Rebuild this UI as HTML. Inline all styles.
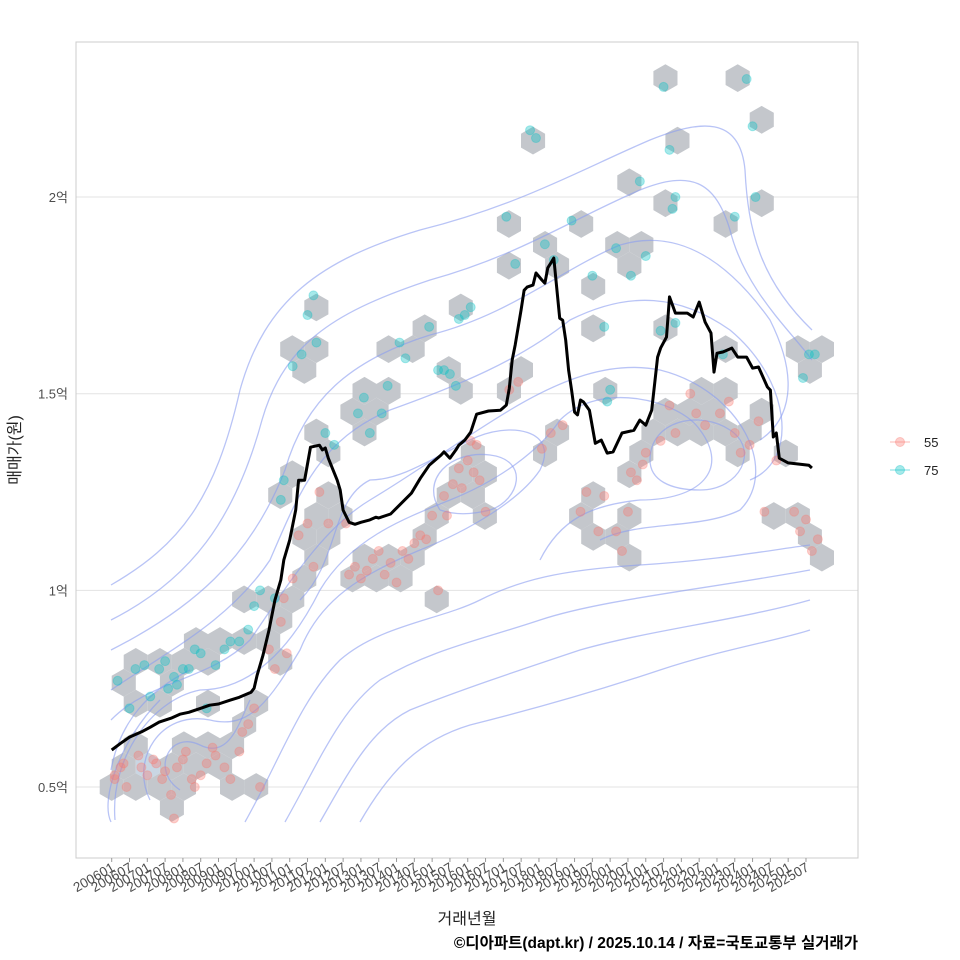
<!DOCTYPE html>
<html><head><meta charset="utf-8"><style>
body{margin:0;background:#fff;}
svg{display:block;font-family:"Liberation Sans","Noto Sans CJK KR",sans-serif;}
</style></head><body>
<svg id="chart" width="960" height="960" viewBox="0 0 960 960" xmlns="http://www.w3.org/2000/svg">
<rect x="0" y="0" width="960" height="960" fill="#fff"/>
<g id="grid"></g>
<g id="hexes"></g>
<g id="contours" fill="none" stroke="#8b9cf0" stroke-opacity="0.6" stroke-width="1.3">
<path d="M111,585 C180,545 215,500 240,390 C265,300 320,260 420,230 C520,205 580,170 650,140 C700,120 740,115 745,170 C748,230 760,280 812,330"/>
<path d="M111,620 C190,580 235,520 262,420 C285,340 340,310 430,280 C520,255 570,220 640,190 C690,170 715,180 730,230 C745,290 790,330 812,360"/>
<path d="M111,650 C190,610 250,560 285,470 C305,400 350,360 430,335 C510,315 560,270 620,245 C670,230 720,250 770,320 C800,380 790,420 760,440"/>
<path d="M111,690 C170,650 230,620 270,560 C300,490 320,440 390,410 C460,385 520,360 570,320 C630,290 680,295 730,330 C790,380 800,460 750,480"/>
<path d="M111,720 C150,680 210,680 250,640 C285,590 320,530 370,500 C420,470 460,440 510,410 C560,380 610,360 660,370 C740,390 780,470 740,510 C700,530 640,520 600,540"/>
<path d="M115,820 C110,760 150,700 200,690 C250,690 290,650 320,590 C350,540 400,520 450,500 C500,480 540,450 560,420 C600,380 680,400 700,430 C730,470 700,500 640,500 C590,505 560,520 540,560"/>
<path d="M150,800 C130,760 160,710 210,720 C250,730 270,700 300,650 C320,600 360,575 420,550 C470,530 520,500 540,470 C560,430 510,420 470,440 C430,460 400,480 370,480 C330,500 340,560 300,600"/>
<path d="M180,790 C150,770 170,730 200,745 C230,760 240,720 250,700"/>
<path d="M440,510 C420,480 450,450 490,455 C530,460 520,500 490,510 C470,515 455,515 440,510"/>
<path d="M650,460 C650,420 700,410 730,430 C760,450 740,490 700,490 C670,490 650,480 650,460"/>
<path d="M245,822 C280,760 300,700 340,660 C380,625 440,620 480,600 C520,580 560,570 640,565 C720,560 770,550 810,545"/>
<path d="M285,822 C320,760 340,710 380,680 C430,650 480,640 540,620 C600,600 700,590 810,570"/>
<path d="M320,822 C350,770 370,730 410,710 C460,690 520,670 580,650 C650,630 740,620 810,600"/>
<path d="M360,822 C390,770 420,740 470,725 C530,710 600,690 660,670 C720,650 780,640 810,630"/>
<path d="M111,822 C100,800 120,740 160,700"/>
<path d="M111,770 C120,720 150,690 190,670"/>
</g>
<g id="points"></g>
<path id="line" fill="none" stroke="#000" stroke-width="3" stroke-linejoin="round"/>
<rect x="76" y="42" width="782" height="816" fill="none" stroke="#cccccc" stroke-width="1"/>
<g id="yaxis" font-size="13" fill="#4d4d4d"></g>
<g id="xaxis" font-size="13.5" fill="#4d4d4d"></g>
<text transform="translate(20,450) rotate(-90)" text-anchor="middle" font-size="16" fill="#222">매매가(원)</text>
<text x="467" y="924" text-anchor="middle" font-size="16" fill="#222">거래년월</text>
<text x="858" y="948" text-anchor="end" font-size="15.5" font-weight="bold" fill="#000">©디아파트(dapt.kr) / 2025.10.14 / 자료=국토교통부 실거래가</text>
<g>
<g>
<line x1="890" y1="442" x2="910" y2="442" stroke="#f8766d" stroke-opacity="0.35" stroke-width="1.5"/>
<circle cx="900" cy="442" r="4.5" fill="#f8766d" fill-opacity="0.35" stroke="#f8766d" stroke-opacity="0.35"/>
<text x="924" y="447" font-size="13" fill="#222">55</text></g>
<g>
<line x1="890" y1="470" x2="910" y2="470" stroke="#00bfc4" stroke-opacity="0.35" stroke-width="1.5"/>
<circle cx="900" cy="470" r="4.5" fill="#00bfc4" fill-opacity="0.35" stroke="#00bfc4" stroke-opacity="0.35"/>
<text x="924" y="475" font-size="13" fill="#222">75</text></g>
</g>
</svg>
<script>
// month index: 0 = 2006-01
const lineMonths=[0,3,6,10,13,16,20,23,26,30,33,36,40,43,47,48,49,51,53,55,57,58,60,62,63,65,67,70,71,72,73,76,77,78,80,82,84,87,89,90,94,101,104,107,111,112,114,116,117,119,121,123,127,131,133,134,135,136,138,139,140,142,143,145,146,147,148,149,151,152,153,154,155,156,157,158,159,161,163,165,167,169,172,176,178,180,182,184,185,187,188,190,194,196,198,200,202,203,204,206,209,211,214,216,218,221,222,223,224,225,228,235,236];
const lineValues=[0.594,0.611,0.627,0.640,0.652,0.665,0.675,0.685,0.690,0.700,0.708,0.711,0.721,0.728,0.741,0.751,0.784,0.835,0.899,0.975,1.026,1.077,1.128,1.204,1.280,1.280,1.364,1.369,1.357,1.362,1.336,1.280,1.255,1.204,1.173,1.168,1.173,1.179,1.186,1.184,1.194,1.247,1.285,1.318,1.344,1.352,1.336,1.357,1.369,1.382,1.402,1.448,1.456,1.458,1.471,1.514,1.586,1.624,1.713,1.763,1.771,1.776,1.807,1.789,1.781,1.820,1.832,1.845,1.692,1.687,1.636,1.560,1.509,1.453,1.446,1.484,1.479,1.458,1.374,1.382,1.349,1.352,1.400,1.407,1.433,1.420,1.458,1.593,1.616,1.644,1.746,1.705,1.705,1.695,1.733,1.682,1.654,1.555,1.603,1.606,1.616,1.593,1.593,1.565,1.568,1.517,1.509,1.390,1.400,1.336,1.324,1.318,1.311];
const pinkPoints=[[1,0.53],[1,0.52],[3,0.55],[5,0.50],[4,0.56],[9,0.58],[10,0.55],[12,0.53],[14,0.57],[15,0.56],[17,0.52],[18,0.54],[20,0.48],[21,0.42],[22,0.55],[24,0.57],[25,0.59],[27,0.52],[28,0.50],[30,0.53],[32,0.56],[34,0.60],[35,0.58],[38,0.55],[40,0.52],[43,0.59],[44,0.64],[46,0.66],[48,0.70],[50,0.50],[53,0.85],[55,0.80],[57,0.92],[59,0.84],[58,0.98],[61,1.03],[63,1.14],[66,1.17],[70,1.25],[68,1.06],[73,1.17],[79,1.17],[80,1.04],[82,1.06],[84,1.03],[86,1.05],[88,1.08],[90,1.10],[92,1.04],[94,1.07],[96,1.02],[98,1.10],[100,1.08],[102,1.12],[104,1.14],[106,1.13],[108,1.19],[110,1.00],[112,1.24],[113,1.19],[115,1.27],[117,1.31],[118,1.26],[120,1.33],[122,1.30],[124,1.28],[121,1.38],[123,1.37],[126,1.20],[134,1.51],[137,1.53],[145,1.36],[148,1.40],[152,1.42],[158,1.20],[160,1.25],[164,1.15],[166,1.24],[170,1.15],[172,1.10],[174,1.20],[175,1.30],[177,1.28],[179,1.32],[180,1.35],[185,1.38],[188,1.47],[190,1.40],[195,1.50],[197,1.45],[200,1.42],[205,1.45],[208,1.48],[210,1.40],[212,1.35],[215,1.37],[218,1.43],[220,1.20],[224,1.33],[230,1.20],[232,1.15],[234,1.18],[236,1.10],[238,1.13]];
const cyanPoints=[[2,0.77],[6,0.70],[8,0.80],[11,0.81],[13,0.73],[16,0.80],[18,0.82],[19,0.75],[21,0.78],[22,0.76],[24,0.80],[26,0.80],[28,0.85],[30,0.84],[32,0.70],[35,0.81],[38,0.85],[40,0.87],[43,0.87],[46,0.90],[48,0.96],[50,1.00],[55,0.98],[57,1.23],[58,1.28],[61,1.57],[64,1.60],[66,1.70],[68,1.75],[69,1.63],[72,1.40],[75,1.37],[83,1.45],[85,1.49],[87,1.40],[91,1.45],[93,1.52],[97,1.63],[99,1.59],[107,1.67],[110,1.56],[112,1.56],[114,1.55],[117,1.69],[119,1.70],[121,1.72],[116,1.52],[133,1.95],[136,1.83],[141,2.17],[143,2.15],[146,1.88],[149,1.84],[155,1.94],[162,1.80],[166,1.67],[170,1.87],[168,1.51],[167,1.48],[175,1.80],[178,2.04],[180,1.85],[186,2.28],[188,2.12],[189,1.97],[190,2.00],[210,1.95],[214,2.30],[216,2.18],[217,2.00],[233,1.54],[235,1.60],[237,1.60],[185,1.66],[190,1.68],[206,1.60]];
const yTicks=[0.5,1,1.5,2];
const yTickLabels=["0.5억","1억","1.5억","2억"];

const NS="http://www.w3.org/2000/svg";
const X0=111.7, MONTH_PX=2.967;
function xScale(m){return X0+m*MONTH_PX;}
function yScale(v){return 787-(v-0.5)*393.3;}
function mk(tag,parent,attrs){const e=document.createElementNS(NS,tag);for(const k in attrs)e.setAttribute(k,attrs[k]);parent.appendChild(e);return e;}

const grid=document.getElementById('grid'), yax=document.getElementById('yaxis'), xax=document.getElementById('xaxis');
yTicks.forEach((t,i)=>{
  const l=mk('line',grid,{x1:76,x2:858,y1:yScale(t),y2:yScale(t),stroke:'#e3e3e3','stroke-width':1});
  
  
  const tx=mk('text',yax,{x:68,y:yScale(t)+5,'text-anchor':'end'});
  tx.textContent=yTickLabels[i];
  
  
});
for(let k=0;k<40;k++){
  const m=k*6, yr=2006+Math.floor(m/12), mo=(m%12)+1;
  const lab=''+yr+(mo<10?'0':'')+mo;
  const x=xScale(m);
  const tk=mk('line',xax,{x1:x,x2:x,y1:858,y2:862,stroke:'#999'});
  
  
  const tx=mk('text',xax,{transform:`translate(${x+4},${870}) rotate(-30)`,'text-anchor':'end'});
  tx.textContent=lab;
  
  
}
// hexbin computed from all points
const R=13.9, W=Math.sqrt(3)*R, H=1.5*R, HY0=787;
const bins={};
pinkPoints.concat(cyanPoints).forEach(p=>{
  const px=xScale(p[0]), py=yScale(p[1]);
  const row=Math.round((py-HY0)/H);
  let best=null,bd=1e9;
  for(let r=row-1;r<=row+1;r++){
    const o=(r&1)?W/2:0;
    const c=Math.round((px-X0-o)/W);
    for(let cc=c-1;cc<=c+1;cc++){
      const cx=X0+o+cc*W, cy=HY0+r*H, d=(cx-px)**2+(cy-py)**2;
      if(d<bd){bd=d;best=[r,cc,cx,cy];}
    }
  }
  const key=best[0]+'_'+best[1];
  if(!bins[key])bins[key]={cx:best[2],cy:best[3],n:0};
  bins[key].n++;
});
const hexG=document.getElementById('hexes');
Object.values(bins).forEach(b=>{
  let pts=[];
  for(let i=0;i<6;i++){const a=Math.PI/180*(60*i-90);pts.push((b.cx+R*Math.cos(a)).toFixed(1)+','+(b.cy+R*Math.sin(a)).toFixed(1));}
  const h=mk('polygon',hexG,{points:pts.join(' '),fill:b.n>=4?'#c9d6e3':'#c4c7cc'});
  
  
});
const ptG=document.getElementById('points');
function drawPts(arr,col,name){arr.forEach(p=>{
  const c=mk('circle',ptG,{cx:xScale(p[0]),cy:yScale(p[1]),r:4.5,fill:col,'fill-opacity':0.35,stroke:col,'stroke-opacity':0.3});
  
  
});}
drawPts(pinkPoints,'#f8766d','point-55');
drawPts(cyanPoints,'#00bfc4','point-75');
document.getElementById('line').setAttribute('d',lineMonths.map((m,i)=>(i?'L':'M')+xScale(m).toFixed(1)+','+yScale(lineValues[i]).toFixed(1)).join(' '));
</script>
</body></html>
